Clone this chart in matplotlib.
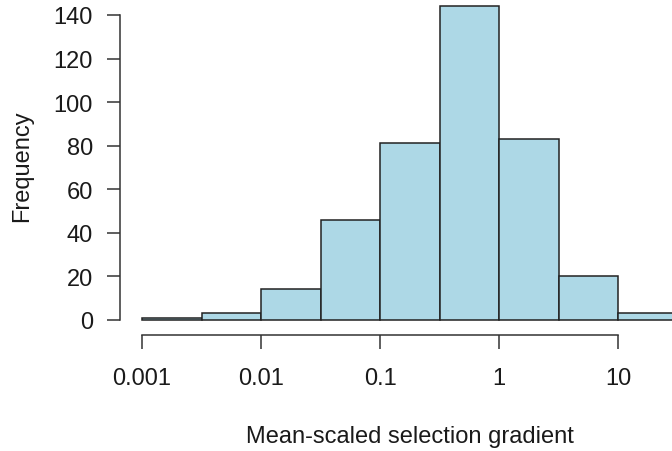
import numpy as np
import matplotlib
matplotlib.use("Agg")
import matplotlib.pyplot as plt

# histogram of log10(mean-scaled selection gradient), half-decade bins
bin_edges = [-3.0, -2.5, -2.0, -1.5, -1.0, -0.5, 0.0, 0.5, 1.0, 1.5]
counts = [1, 3, 14, 46, 81, 144, 83, 20, 3]
x_ticks = [-3, -2, -1, 0, 1]
x_tick_labels = ["0.001", "0.01", "0.1", "1", "10"]
y_ticks = [0, 20, 40, 60, 80, 100, 120, 140]

plt.rcParams["font.family"] = ["Liberation Sans", "DejaVu Sans"]
W, H = 672, 452
fig = plt.figure(figsize=(W / 100, H / 100), dpi=100)

# R-like plot region (right / top edges run past the picture)
left_px, right_px = 120, 699
bottom_px, top_px = 333.5, -5.3
ax = fig.add_axes([left_px / W, (H - bottom_px) / H,
                   (right_px - left_px) / W, (bottom_px - top_px) / H])

widths = np.diff(bin_edges)
ax.bar(bin_edges[:-1], counts, width=widths, align="edge",
       color="#add8e6", edgecolor="#222222", linewidth=1.1)

ax.set_xlim(-3.185, 1.68)
ax.set_ylim(-5.76, 149.76)

ink = "#1a1a1a"
for s in ["top", "right"]:
    ax.spines[s].set_visible(False)
ax.spines["left"].set_bounds(0, 140)
ax.spines["bottom"].set_bounds(-3, 1)
ax.spines["bottom"].set_position(("outward", 1.5))
for s in ["left", "bottom"]:
    ax.spines[s].set_color("#333333")
    ax.spines[s].set_linewidth(1.1)

ax.set_yticks(y_ticks)
ax.set_xticks(x_ticks)
ax.set_xticklabels(x_tick_labels)
ax.tick_params(axis="y", length=9.5, width=1.1, color="#333333", pad=10,
               labelsize=17, labelcolor=ink)
ax.tick_params(axis="x", length=10, width=1.1, color="#333333", pad=13.5,
               labelsize=17, labelcolor=ink)

fig.text(410 / W, 1 - 437 / H, "Mean-scaled selection gradient",
         ha="center", va="center", fontsize=17, color=ink)
fig.text(22 / W, 1 - 166 / H, "Frequency", rotation=90,
         ha="center", va="center", fontsize=17, color=ink)

fig.savefig("out.png", dpi=100)
